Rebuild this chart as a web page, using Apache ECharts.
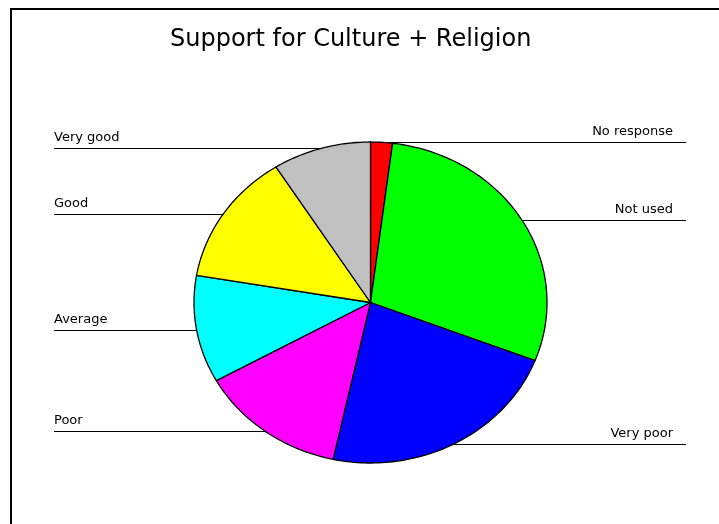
<!DOCTYPE html>
<html>
<head>
<meta charset="utf-8">
<script src="https://cdn.jsdelivr.net/npm/echarts@6/dist/echarts.min.js"></script>
<style>
  html, body { margin: 0; padding: 0; background: #ffffff; }
  #chart { width: 719px; height: 524px; }
</style>
</head>
<body>
<div id="chart"></div>
<script>
// Survey answers, clockwise from twelve o'clock
const categories = ['No response', 'Not used', 'Very poor', 'Poor', 'Average', 'Good', 'Very good'];
const shares = [2.0, 28.9, 22.5, 13.5, 10.8, 13.3, 9.0];
const sliceColors = ['#ff0000', '#00ff00', '#0000ff', '#ff00ff', '#00ffff', '#ffff00', '#c0c0c0'];

const chart = echarts.init(document.getElementById('chart'), null, { renderer: 'canvas' });

// Oval pie geometry and label placement
const CX = 370.5, CY = 302.5, RX = 176.5, RY = 160.5;
const LEFT_EDGE = 54;    // left labels start here
const RIGHT_TEXT = 673;  // right labels end here
const RIGHT_EDGE = 686;  // right leader lines end here

const total = shares.reduce((a, b) => a + b, 0);
const startFraction = [];
shares.reduce((acc, v, i) => { startFraction[i] = acc / total; return acc + v; }, 0);

function ovalPoint(theta) {
  return [CX + RX * Math.sin(theta), CY - RY * Math.cos(theta)];
}

function renderSlice(params, api) {
  const i = params.dataIndex;
  const value = api.value(0);
  const a0 = startFraction[i] * Math.PI * 2;
  const a1 = a0 + value / total * Math.PI * 2;
  const steps = Math.max(4, Math.ceil((a1 - a0) / 0.02));
  const pts = [[CX, CY]];
  for (let k = 0; k <= steps; k++) {
    pts.push(ovalPoint(a0 + (a1 - a0) * k / steps));
  }
  const mid = ovalPoint((a0 + a1) / 2);
  const isLeft = mid[0] < CX;
  const ly = Math.round(mid[1]) + 0.5;
  return {
    type: 'group',
    children: [{
      type: 'polygon',
      shape: { points: pts },
      style: { fill: sliceColors[i], stroke: '#000000', lineWidth: 1.3, lineJoin: 'round' }
    }, {
      type: 'polyline',
      shape: { points: [[mid[0], ly], [isLeft ? LEFT_EDGE : RIGHT_EDGE, ly]] },
      style: { stroke: '#000000', lineWidth: 1, fill: null }
    }, {
      type: 'text',
      style: {
        text: categories[i],
        x: isLeft ? LEFT_EDGE : RIGHT_TEXT,
        y: ly - 4,
        align: isLeft ? 'left' : 'right',
        verticalAlign: 'bottom',
        font: '13px "DejaVu Sans"',
        fill: '#000000'
      }
    }]
  };
}

chart.setOption({
  animation: false,
  backgroundColor: '#ffffff',
  title: {
    text: 'Support for Culture + Religion',
    left: 165,
    top: 23,
    textStyle: {
      fontFamily: 'DejaVu Sans',
      fontSize: 24,
      fontWeight: 'normal',
      color: '#000000'
    }
  },
  graphic: [{
    type: 'polyline',
    shape: { points: [[11, 530], [11, 9], [730, 9]] },
    style: { stroke: '#000000', lineWidth: 2, fill: null }
  }],
  series: [{
    type: 'custom',
    coordinateSystem: 'none',
    silent: true,
    renderItem: renderSlice,
    data: categories.map((name, i) => ({ name: name, value: [shares[i]] }))
  }]
});
</script>
</body>
</html>
